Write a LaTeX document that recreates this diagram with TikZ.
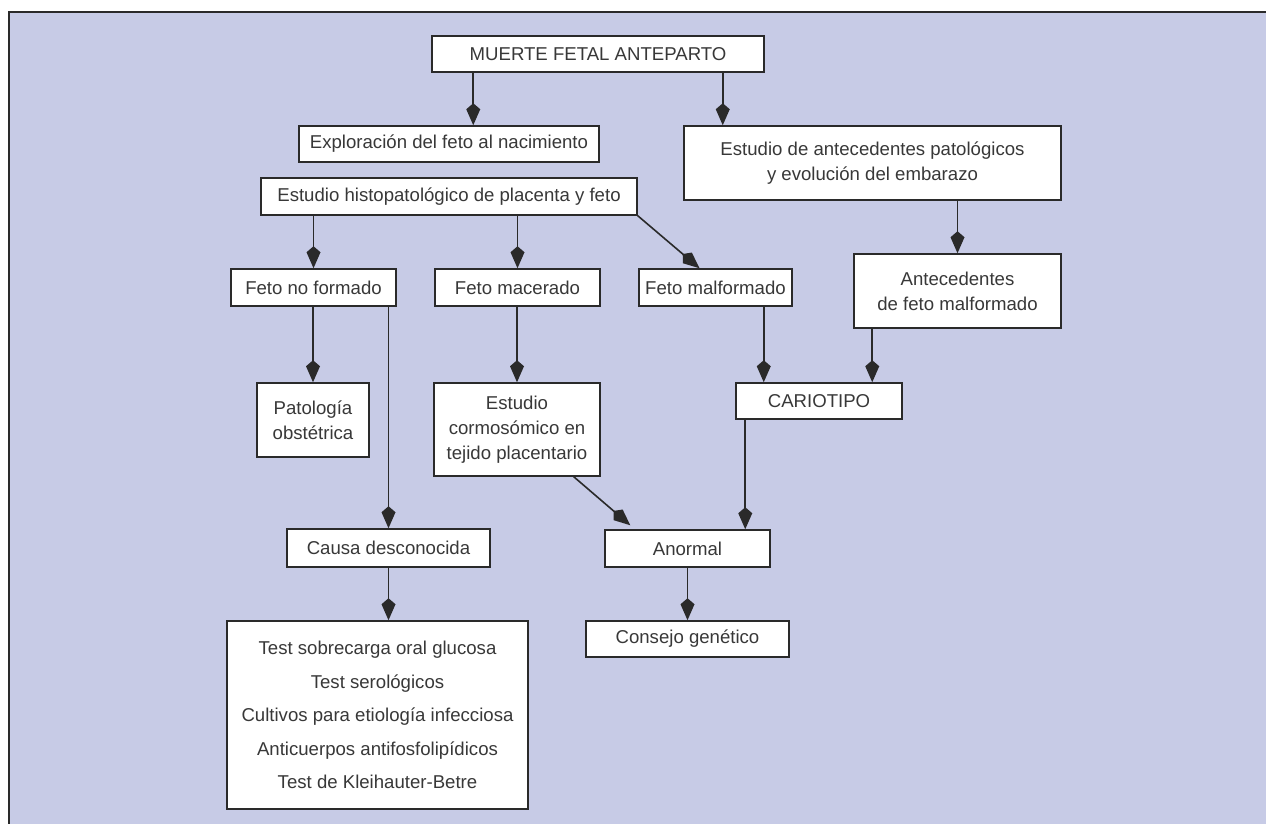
\documentclass[tikz,border=0pt]{standalone}
\usepackage{fontspec}
\setmainfont{Liberation Sans}
\usepackage{xcolor}
\usepackage{tikz}
\usetikzlibrary{arrows.meta, positioning}
\definecolor{panel}{HTML}{C7CBE6}
\definecolor{ink}{HTML}{2A2A2A}
\definecolor{txt}{HTML}{383838}
\tikzset{
  box/.style={rectangle, draw=ink, line width=0.75pt, fill=white, align=center, text=txt, font=\fontsize{9.3}{12.5}\selectfont, inner sep=2pt},
  arr/.style={-{Kite[length=11pt, width=7pt, inset=3pt]}, line width=0.8pt, ink},
}

\begin{document}
\begin{tikzpicture}[x=0.5pt, y=-0.5pt]
\useasboundingbox (0,0) rectangle (1266,824);
\fill[panel] (9,12) rectangle (1266,824);
\draw[ink, line width=1pt] (9,824) -- (9,12) -- (1266,12);
% top row
\node[box, minimum width=166pt, minimum height=18pt] (muerte) at (598,54) {MUERTE FETAL ANTEPARTO};
\node[box, minimum width=150pt, minimum height=18pt] (explor) at (449,144) {Exploración del feto al nacimiento};
\node[box, minimum width=188pt, minimum height=18.5pt] (histo) at (449,196.5) {Estudio histopatológico de placenta y feto};
\node[box, minimum width=188.5pt, minimum height=37pt] (antec) at (872.5,163) {Estudio de antecedentes patológicos\\y evolución del embarazo};
% second row
\node[box, minimum width=82.5pt, minimum height=18.5pt] (nofor) at (313.5,287.5) {Feto no formado};
\node[box, minimum width=82.5pt, minimum height=18.5pt] (macer) at (517.5,287.5) {Feto macerado};
\node[box, minimum width=76.5pt, minimum height=18.5pt] (malfo) at (715.5,287.5) {Feto malformado};
\node[box, minimum width=103.5pt, minimum height=37pt] (antmal) at (957.5,291) {Antecedentes\\de feto malformado};
% third row
\node[box, minimum width=56pt, minimum height=37pt] (patol) at (313,420) {Patología\\obstétrica};
\node[box, minimum width=83pt, minimum height=46.5pt] (cromo) at (517,429.5) {Estudio\\cormosómico en\\tejido placentario};
\node[box, minimum width=83pt, minimum height=18pt] (cario) at (819,401) {CARIOTIPO};
% bottom
\node[box, minimum width=101.5pt, minimum height=19pt] (causa) at (388.5,548) {Causa desconocida};
\node[box, minimum width=82.5pt, minimum height=18.5pt] (anorm) at (687.5,548.5) {Anormal};
\node[box, minimum width=150.5pt, minimum height=94pt, font=\fontsize{9.3}{16.75}\selectfont] (tests) at (377.5,715) {Test sobrecarga oral glucosa\\Test serológicos\\Cultivos para etiología infecciosa\\Anticuerpos antifosfolipídicos\\Test de Kleihauter-Betre};
\node[box, minimum width=101.5pt, minimum height=18pt] (consejo) at (687.5,639) {Consejo genético};
% arrows
\draw[arr] ([xshift=21pt]muerte.south west) -- ([xshift=21pt]muerte.south west |- explor.north);
\draw[arr] ([xshift=-21pt]muerte.south east) -- ([xshift=-21pt]muerte.south east |- antec.north);
\draw[arr] (histo.south -| nofor.north) -- (nofor.north);
\draw[arr] (histo.south -| macer.north) -- (macer.north);
\draw[arr] (histo.south east) -- ([xshift=-8pt]malfo.north);
\draw[arr] (antec.south -| antmal.north) -- (antmal.north);
\draw[arr] (nofor.south -| patol.north) -- (patol.north);
\draw[arr] (nofor.south -| causa.north) -- (causa.north);
\draw[arr] (causa.south) -- (causa.south |- tests.north);
\draw[arr] (macer.south -| cromo.north) -- (cromo.north);
\draw[arr] ([xshift=-14.5pt]malfo.south east) -- ([xshift=-14.5pt]malfo.south east |- cario.north);
\draw[arr] ([xshift=9.5pt]antmal.south west) -- ([xshift=9.5pt]antmal.south west |- cario.north);
\draw[arr] ([xshift=-13.5pt]cromo.south east) -- ([xshift=13pt,yshift=2pt]anorm.north west);
\draw[arr] ([xshift=5pt]cario.south west) -- ([xshift=5pt]cario.south west |- anorm.north);
\draw[arr] (anorm.south) -- (consejo.north);
\end{tikzpicture}
\end{document}
